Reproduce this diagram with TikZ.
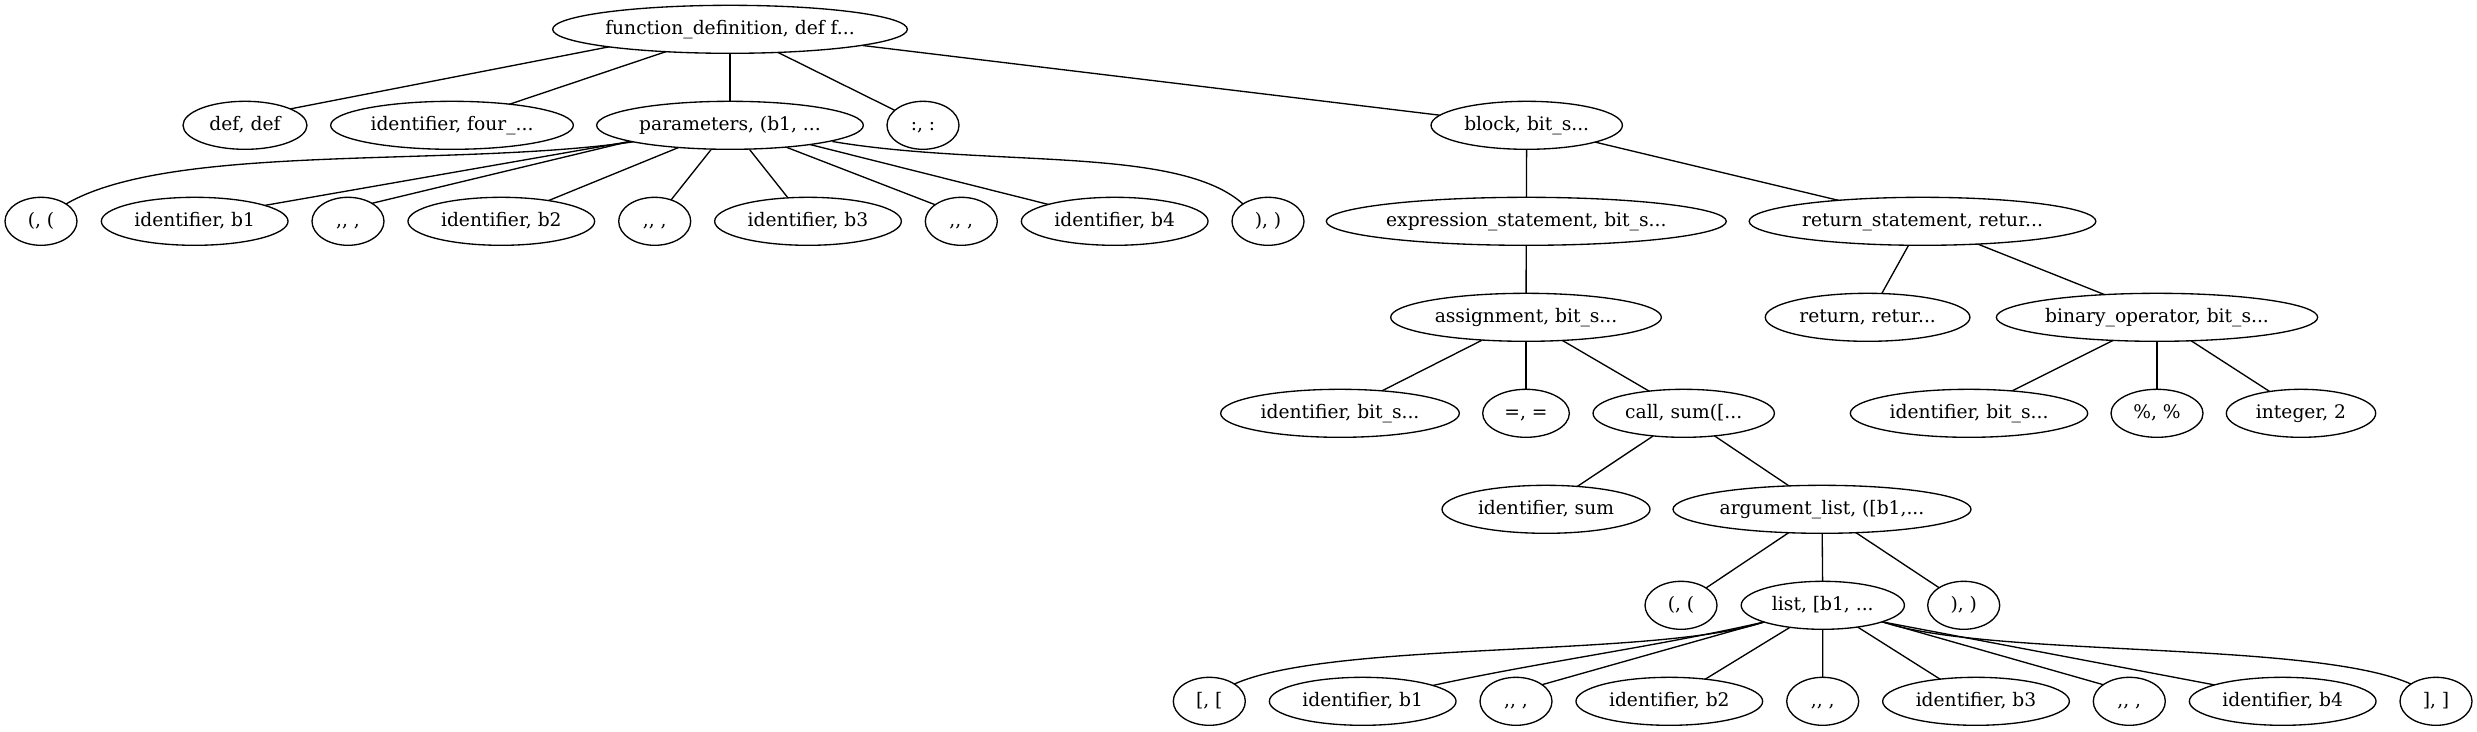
\documentclass[tikz,border=0pt]{standalone}
\usepackage{fontspec}
\setmainfont{DejaVu Serif}
\usetikzlibrary{calc,backgrounds,shapes.geometric}
\newcommand\gvl[1]{\makebox[0pt]{#1}}
\begin{document}
\begin{tikzpicture}[x=0.75bp,y=-0.75bp,
  gv/.style={ellipse, draw, line width=1bp, fill=white, inner sep=0pt,
    minimum height=36bp, minimum width=54bp, text height=10.5bp, text depth=2.3bp,
    font=\fontsize{14bp}{17bp}\selectfont},
  gvedge/.style={line width=1bp, shorten <=-1bp, shorten >=-1bp}]
\useasboundingbox (0,0) rectangle (2477,731);
% row 0
\node[gv, minimum width=266bp] (root) at (730,29.3) {\gvl{function\_definition, def f...}};
% row 1
\node[gv, minimum width=93bp] (def) at (245,125.3) {\gvl{def, def}};
\node[gv, minimum width=182bp] (four) at (452,125.3) {\gvl{identifier, four\_...}};
\node[gv, minimum width=200bp] (params) at (730,125.3) {\gvl{parameters, (b1, ...}};
\node[gv] (colon) at (923,125.3) {\gvl{:, :}};
\node[gv, minimum width=143.5bp] (block) at (1526.7,125.3) {\gvl{block, bit\_s...}};
% row 2
\node[gv] (lpA) at (41,221.3) {\gvl{(, (}};
\node[gv, minimum width=140bp] (bA1) at (194.7,221.3) {\gvl{identifier, b1}};
\node[gv] (cA1) at (348,221.3) {\gvl{,{}, ,}};
\node[gv, minimum width=140bp] (bA2) at (501.3,221.3) {\gvl{identifier, b2}};
\node[gv] (cA2) at (654.7,221.3) {\gvl{,{}, ,}};
\node[gv, minimum width=140bp] (bA3) at (808,221.3) {\gvl{identifier, b3}};
\node[gv] (cA3) at (961.3,221.3) {\gvl{,{}, ,}};
\node[gv, minimum width=140bp] (bA4) at (1114.7,221.3) {\gvl{identifier, b4}};
\node[gv] (rpA) at (1268,221.3) {\gvl{), )}};
\node[gv, minimum width=300bp] (expr) at (1526.3,221.3) {\gvl{expression\_statement, bit\_s...}};
\node[gv, minimum width=260bp] (retst) at (1922.5,221.3) {\gvl{return\_statement, retur...}};
% row 3
\node[gv, minimum width=203bp] (assign) at (1526,317.3) {\gvl{assignment, bit\_s...}};
\node[gv, minimum width=153.5bp] (ret) at (1867.6,317.3) {\gvl{return, retur...}};
\node[gv, minimum width=241bp] (binop) at (2157,317.3) {\gvl{binary\_operator, bit\_s...}};
% row 4
\node[gv, minimum width=179bp] (idbsA) at (1340,413.3) {\gvl{identifier, bit\_s...}};
\node[gv, minimum width=65bp] (eq) at (1526,413.3) {\gvl{=, =}};
\node[gv, minimum width=136bp] (call) at (1683.7,413.3) {\gvl{call, sum([...}};
\node[gv, minimum width=178bp] (idbsB) at (1969,413.3) {\gvl{identifier, bit\_s...}};
\node[gv, minimum width=69bp] (pct) at (2157,413.3) {\gvl{\%, \%}};
\node[gv, minimum width=112bp] (intg) at (2301,413.3) {\gvl{integer, 2}};
% row 5
\node[gv, minimum width=156bp] (idsum) at (1546,509.3) {\gvl{identifier, sum}};
\node[gv, minimum width=223.5bp] (arglist) at (1822,509.3) {\gvl{argument\_list, ([b1,...}};
% row 6
\node[gv] (lpB) at (1681,605.3) {\gvl{(, (}};
\node[gv, minimum width=122.4bp] (list) at (1822.8,605.3) {\gvl{list, [b1, ...}};
\node[gv] (rpB) at (1963.7,605.3) {\gvl{), )}};
% row 7
\node[gv] (lbC) at (1209.3,701.3) {\gvl{[, [}};
\node[gv, minimum width=140bp] (bC1) at (1362.7,701.3) {\gvl{identifier, b1}};
\node[gv] (cC1) at (1516,701.3) {\gvl{,{}, ,}};
\node[gv, minimum width=140bp] (bC2) at (1669.3,701.3) {\gvl{identifier, b2}};
\node[gv] (cC2) at (1822.7,701.3) {\gvl{,{}, ,}};
\node[gv, minimum width=140bp] (bC3) at (1976,701.3) {\gvl{identifier, b3}};
\node[gv] (cC3) at (2129.3,701.3) {\gvl{,{}, ,}};
\node[gv, minimum width=140bp] (bC4) at (2282.7,701.3) {\gvl{identifier, b4}};
\node[gv] (rbC) at (2436,701.3) {\gvl{], ]}};

\begin{pgfonlayer}{background}
\fill[white] (0,0) rectangle (2477,731);
% root
\draw[gvedge] ($(root)+(-120.3,17.4)$) -- ($(def)+(45.8,-16.5)$);
\draw[gvedge] ($(root)+(-64.2,22.4)$) -- ($(four)+(58.2,-21.3)$);
\draw[gvedge] (root) -- (params);
\draw[gvedge] ($(root)+(46.5,22.4)$) -- ($(colon)+(-28.2,-15)$);
\draw[gvedge] ($(root)+(134.2,16.4)$) -- ($(block)+(-88.5,-10.3)$);
% params
\draw[gvedge] ($(params)+(-98,16.7)$) .. controls +(-182,26) and +(104,-62) .. ($(lpA)+(25,-17.3)$);
\draw[gvedge] ($(params)+(-99,16)$) -- ($(bA1)+(70.6,-16)$);
\draw[gvedge] ($(params)+(-100,16)$) -- ($(cA1)+(24,-18)$);
\draw[gvedge] ($(params)+(-51.4,22.2)$) -- ($(bA2)+(47.2,-20.7)$);
\draw[gvedge] ($(params)+(-18.3,23.5)$) -- ($(cA2)+(16.3,-21.3)$);
\draw[gvedge] ($(params)+(19,23.5)$) -- ($(bA3)+(-19.7,-23)$);
\draw[gvedge] ($(params)+(55,21.4)$) -- ($(cA3)+(-26,-16.5)$);
\draw[gvedge] ($(params)+(78,18.7)$) -- ($(bA4)+(-66.8,-17)$);
\draw[gvedge] ($(params)+(103.6,16.4)$) .. controls +(156.4,26.3) and +(-63,-59) .. ($(rpA)+(-25,-17.3)$);
% block
\draw[gvedge] (block) -- (expr);
\draw[gvedge] ($(block)+(66.7,16.4)$) -- ($(retst)+(-84.2,-21)$);
\draw[gvedge] (expr) -- (assign);
% return_statement
\draw[gvedge] ($(retst)+(-13.8,23.7)$) -- ($(ret)+(14,-23.5)$);
\draw[gvedge] ($(retst)+(55.1,22.7)$) -- ($(binop)+(-54,-23.3)$);
% assignment
\draw[gvedge] ($(assign)+(-45,23.4)$) -- ($(idbsA)+(43,-23)$);
\draw[gvedge] (assign) -- (eq);
\draw[gvedge] ($(assign)+(36.8,23.4)$) -- ($(call)+(-35.3,-22.6)$);
% binary_operator
\draw[gvedge] ($(binop)+(-44.6,23.4)$) -- ($(idbsB)+(43.4,-22.6)$);
\draw[gvedge] (binop) -- (pct);
\draw[gvedge] ($(binop)+(34,23.4)$) -- ($(intg)+(-32.1,-22.3)$);
% call
\draw[gvedge] ($(call)+(-31.7,23.4)$) -- ($(idsum)+(32,-23.3)$);
\draw[gvedge] ($(call)+(32,23.4)$) -- ($(arglist)+(-33.3,-23.6)$);
% argument_list
\draw[gvedge] ($(arglist)+(-33.3,23.4)$) -- ($(lpB)+(24.5,-17)$);
\draw[gvedge] (arglist) -- (list);
\draw[gvedge] ($(arglist)+(34,23.4)$) -- ($(rpB)+(-24.5,-17.5)$);
% list
\draw[gvedge] ($(list)+(-58.8,16.7)$) .. controls +(-104,36) and +(96,-44) .. ($(lbC)+(25,-17.3)$);
\draw[gvedge] ($(list)+(-58.8,16.7)$) .. controls +(-104,24) and +(106.5,-23.3) .. ($(bC1)+(70.8,-16)$);
\draw[gvedge] ($(list)+(-58.8,16.7)$) -- ($(cC1)+(26,-16.6)$);
\draw[gvedge] ($(list)+(-32.8,22)$) -- ($(bC2)+(35.7,-22)$);
\draw[gvedge] (list) -- (cC2);
\draw[gvedge] ($(list)+(34.8,21.7)$) -- ($(bC3)+(-35.7,-22)$);
\draw[gvedge] ($(list)+(60.2,16.7)$) -- ($(cC3)+(-26,-16.6)$);
\draw[gvedge] ($(list)+(60.2,16.7)$) -- ($(bC4)+(-68.2,-16.4)$);
\draw[gvedge] ($(list)+(60.2,16.7)$) .. controls +(104,36) and +(-96,-44) .. ($(rbC)+(-25,-17.3)$);
\end{pgfonlayer}
\end{tikzpicture}
\end{document}
